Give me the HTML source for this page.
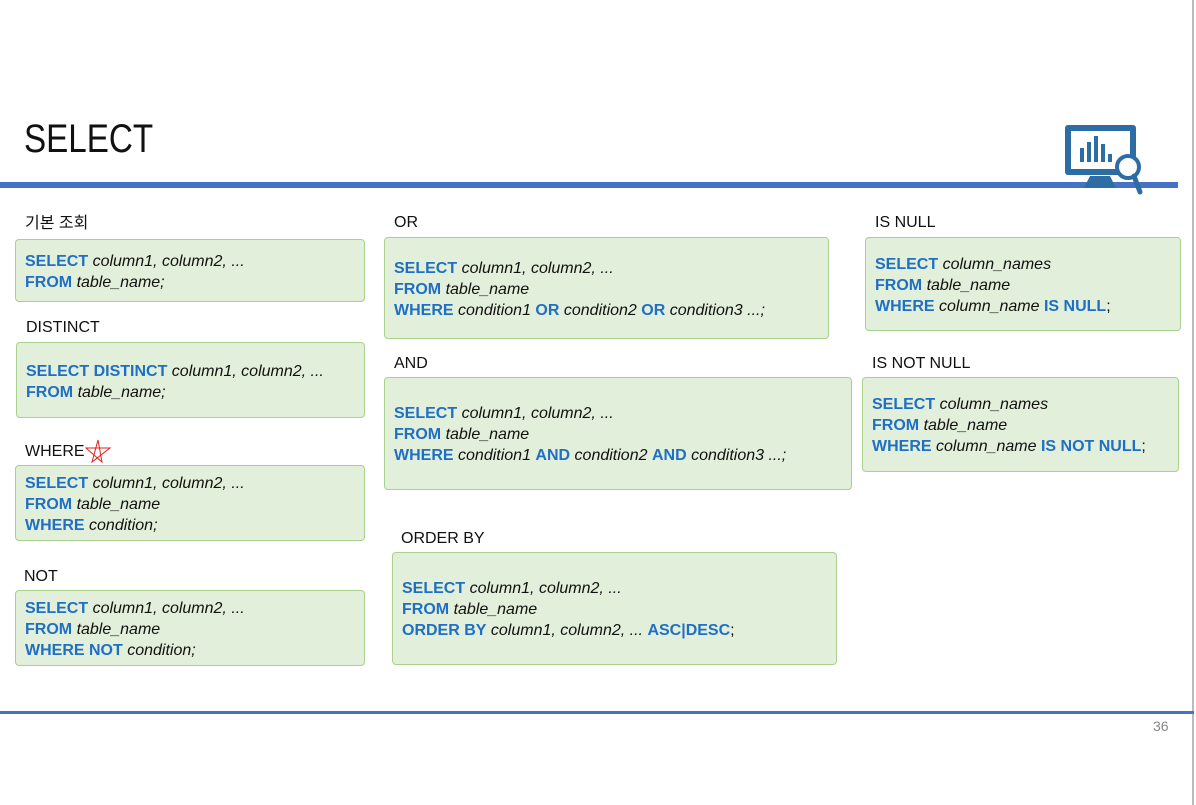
<!DOCTYPE html>
<html><head><meta charset="utf-8"><style>
body{margin:0;width:1196px;height:805px;background:#fff;position:relative;overflow:hidden;font-family:"Liberation Sans","Noto Sans CJK KR",sans-serif;}
.a{position:absolute}
.lbl{position:absolute;font-size:16px;color:#111;line-height:20px}
.box{position:absolute;background:#e2efda;border:1.5px solid #a9d18e;border-radius:4px;box-sizing:border-box;font-size:16px;line-height:21px;color:#111;padding-left:9px}
.box b{color:#1f6fc5}
.box i{font-style:italic}
</style></head><body>
<div class="a" style="left:24px;top:117px;font-size:40px;color:#111;transform:scaleX(0.83);transform-origin:left top">SELECT</div>
<div class="a" style="left:0;top:182px;width:1178px;height:6px;background:#4472c4"></div>
<div class="a" style="left:1192px;top:0;width:2px;height:805px;background:#bbb"></div>
<div class="a" style="left:0;top:711px;width:1194px;height:3px;background:#4472c4"></div>
<div class="a" style="left:1153px;top:718px;font-size:14px;color:#888">36</div>
<svg class="a" style="left:1060px;top:122px" width="90" height="75">
<rect x="5" y="3" width="71" height="50" rx="3" fill="#2e6ca4"/>
<rect x="11" y="9" width="59" height="38" fill="#fff"/>
<rect x="20" y="26" width="4" height="14" fill="#2e6ca4"/><rect x="27" y="20" width="4" height="20" fill="#2e6ca4"/><rect x="34" y="14" width="4" height="26" fill="#2e6ca4"/><rect x="41" y="22" width="4" height="18" fill="#2e6ca4"/><rect x="48" y="32" width="4" height="8" fill="#2e6ca4"/>
<path d="M30 54 L50 54 L56 66 L24 66 Z" fill="#2e6ca4"/>
<circle cx="68" cy="45" r="11" fill="#fff" stroke="#2e6ca4" stroke-width="4"/>
<line x1="74" y1="54" x2="80" y2="70" stroke="#2e6ca4" stroke-width="5" stroke-linecap="round"/>
</svg>

<div class="lbl" style="left:25px;top:214px">기본 조회</div>
<div class="box" style="left:15px;top:239px;width:350px;height:63px;padding-top:11px"><b>SELECT</b> <i>column1, column2, ...</i><br><b>FROM</b> <i>table_name;</i></div>

<div class="lbl" style="left:26px;top:318px">DISTINCT</div>
<div class="box" style="left:16px;top:342px;width:349px;height:76px;padding-top:18px"><b>SELECT DISTINCT</b> <i>column1, column2, ...</i><br><b>FROM</b> <i>table_name;</i></div>

<div class="lbl" style="left:25px;top:442px">WHERE</div>
<svg class="a" style="left:84px;top:438px" width="28" height="28"><polygon points="14,2 18,24 2,10 26,10 8,24" fill="none" stroke="#d22" stroke-width="1"/></svg>
<div class="box" style="left:15px;top:465px;width:350px;height:76px;padding-top:7px"><b>SELECT</b> <i>column1, column2, ...</i><br><b>FROM</b> <i>table_name</i><br><b>WHERE</b> <i>condition;</i></div>

<div class="lbl" style="left:24px;top:567px">NOT</div>
<div class="box" style="left:15px;top:590px;width:350px;height:76px;padding-top:7px"><b>SELECT</b> <i>column1, column2, ...</i><br><b>FROM</b> <i>table_name</i><br><b>WHERE NOT</b> <i>condition;</i></div>

<div class="lbl" style="left:394px;top:213px">OR</div>
<div class="box" style="left:384px;top:237px;width:445px;height:102px;padding-top:20px"><b>SELECT</b> <i>column1, column2, ...</i><br><b>FROM</b> <i>table_name</i><br><b>WHERE</b> <i>condition1</i> <b>OR</b> <i>condition2</i> <b>OR</b> <i>condition3 ...;</i></div>

<div class="lbl" style="left:394px;top:354px">AND</div>
<div class="box" style="left:384px;top:377px;width:468px;height:113px;padding-top:25px"><b>SELECT</b> <i>column1, column2, ...</i><br><b>FROM</b> <i>table_name</i><br><b>WHERE</b> <i>condition1</i> <b>AND</b> <i>condition2</i> <b>AND</b> <i>condition3 ...;</i></div>

<div class="lbl" style="left:401px;top:529px">ORDER BY</div>
<div class="box" style="left:392px;top:552px;width:445px;height:113px;padding-top:25px"><b>SELECT</b> <i>column1, column2, ...</i><br><b>FROM</b> <i>table_name</i><br><b>ORDER BY</b> <i>column1, column2, ...</i> <b>ASC|DESC</b>;</div>

<div class="lbl" style="left:875px;top:213px">IS NULL</div>
<div class="box" style="left:865px;top:237px;width:316px;height:94px;padding-top:16px"><b>SELECT</b> <i>column_names</i><br><b>FROM</b> <i>table_name</i><br><b>WHERE</b> <i>column_name</i> <b>IS NULL</b>;</div>

<div class="lbl" style="left:872px;top:354px">IS NOT NULL</div>
<div class="box" style="left:862px;top:377px;width:317px;height:95px;padding-top:16px"><b>SELECT</b> <i>column_names</i><br><b>FROM</b> <i>table_name</i><br><b>WHERE</b> <i>column_name</i> <b>IS NOT NULL</b>;</div>
</body></html>
